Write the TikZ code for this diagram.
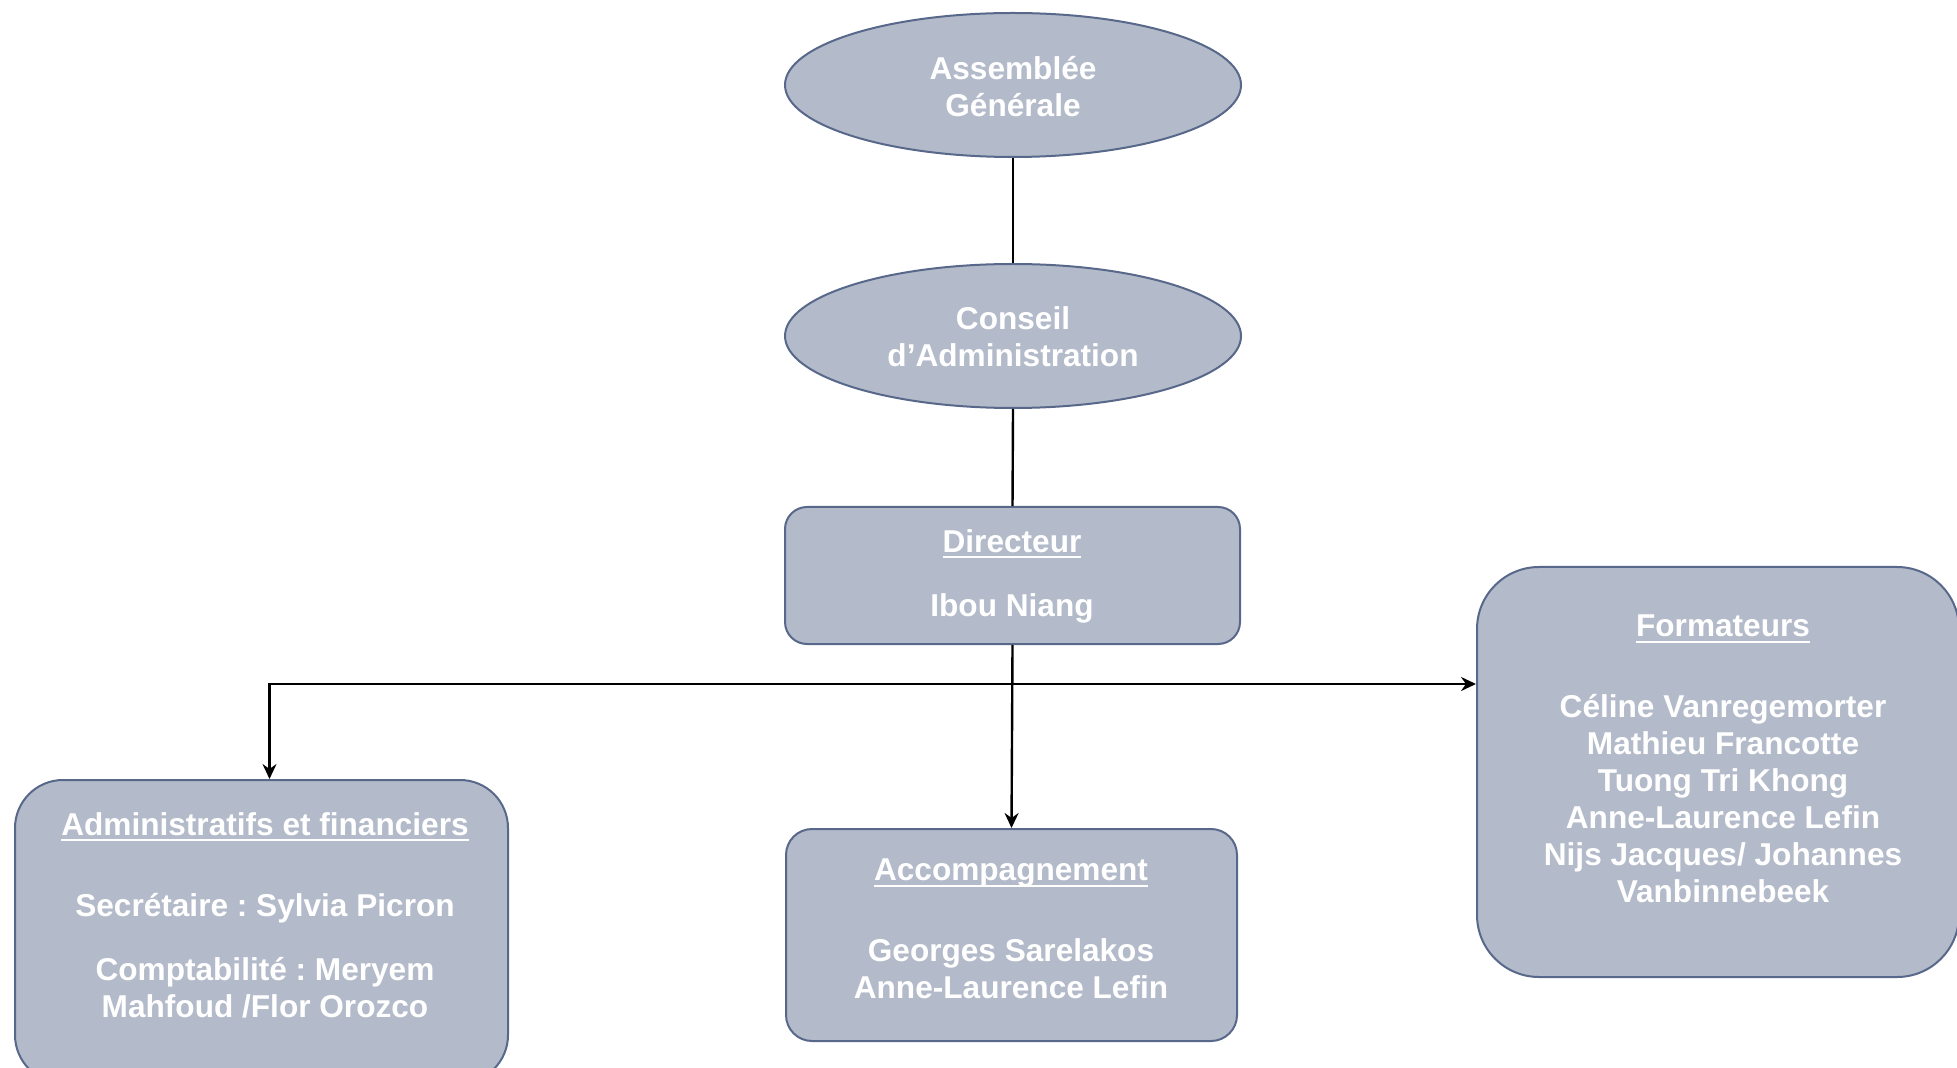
\documentclass[tikz,border=0pt]{standalone}
\usepackage{fontspec}
\setmainfont{Liberation Sans}
\usetikzlibrary{arrows.meta,shapes.geometric}
\definecolor{boxfill}{RGB}{179,186,201}
\definecolor{boxline}{RGB}{88,104,138}
\newcommand\myul[1]{\setbox0\hbox{#1}\rlap{\rule[-3pt]{\wd0}{1.1pt}}\box0}
\frenchspacing
\begin{document}
\begin{tikzpicture}[x=0.5pt,y=-0.5pt,
  shapebox/.style={draw=boxline, fill=boxfill, line width=1pt, inner sep=0pt},
  ell/.style={shapebox, ellipse, minimum width=228pt, minimum height=72pt},
  rbox/.style={shapebox, rectangle, rounded corners=#1},
  txt/.style={text=white, font=\bfseries\fontsize{15.8}{18.5}\selectfont, align=center, inner sep=0pt},
  conn/.style={line width=1.2pt, black},
  arr/.style={conn, -{Stealth[length=7.5pt,width=7pt,inset=2.5pt]}}]
\clip (0,0) rectangle (1957,1068);
\node[ell] (ag) at (1013,85) {};
\node[ell] (ca) at (1013,336) {};
\node[rbox=11pt, minimum width=227.5pt, minimum height=68.5pt] (dir) at (1012.5,575.5) {};
\node[rbox=13pt, minimum width=225.5pt, minimum height=106pt] (acc) at (1011.5,935) {};
\node[rbox=31pt, minimum width=241pt, minimum height=205pt] (form) at (1718,772) {};
\node[rbox=24pt, minimum width=246.5pt, minimum height=151.5pt] (admin) at (261.5,931.5) {};
\coordinate (j) at (1012.5,684);
\draw[conn] (ag.south) -- (ca.north);
\draw[conn] (ca.south) -- (dir.north);
\draw[arr] (dir.south) -- (acc.north);
\draw[arr] (j) -| ([xshift=4pt]admin.north);
\draw[arr] (j) -- (j -| form.west);
\node[txt] (tag) at (1013,87) {Assemblée\\Générale};
\node[txt] (tca) at (1013,337) {Conseil\\d’Administration};
\node[txt] (tdir) at (1012,576) {\myul{Directeur}\\[13.5pt]Ibou Niang};
\node[txt] (tacc) at (1011,929) {\myul{Accompagnement}\\[22pt]Georges Sarelakos\\Anne-Laurence Lefin};
\node[txt] (tform) at (1723,759) {\myul{Formateurs}\\[22pt]Céline Vanregemorter\\Mathieu Francotte\\Tuong Tri Khong\\Anne-Laurence Lefin\\Nijs Jacques/ Johannes\\Vanbinnebeek};
\node[txt] (tadm) at (265,915) {\myul{Administratifs et financiers}\\[22pt]Secrétaire : Sylvia Picron\\[13.5pt]Comptabilité : Meryem\\Mahfoud /Flor Orozco};
\end{tikzpicture}
\end{document}
